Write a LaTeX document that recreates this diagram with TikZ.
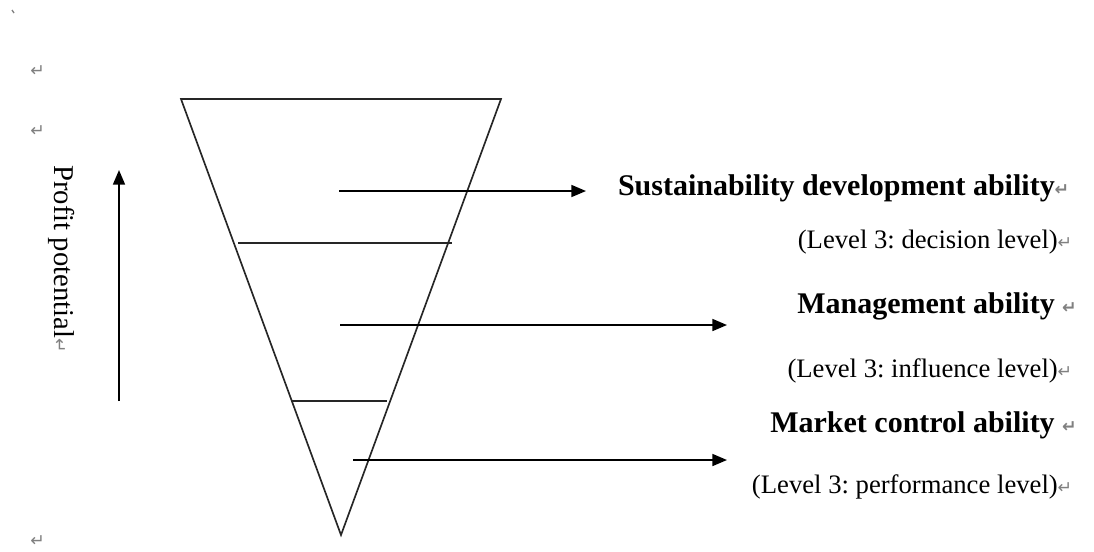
\documentclass[tikz,border=0pt]{standalone}
\usepackage{fontspec}
\setmainfont{Liberation Serif}
\newfontfamily\marksfont{DejaVu Sans}
\usetikzlibrary{arrows.meta}
\definecolor{markgray}{RGB}{128,128,128}
\frenchspacing
% paragraph mark
\newcommand{\pmark}{{\marksfont\fontsize{13pt}{13pt}\selectfont\color{markgray}↵}}
\tikzset{
  edge/.style={line width=1.25pt, black!85},
  pointer/.style={line width=1.25pt, black, -{Triangle[length=11pt,width=9pt]}},
  headtext/.style={font=\fontsize{22.5pt}{24pt}\selectfont\bfseries, anchor=base east, inner sep=0pt},
  leveltext/.style={font=\fontsize{20pt}{22pt}\selectfont, anchor=base east, inner sep=0pt},
  markonly/.style={anchor=base west, inner sep=0pt},
}
\begin{document}
\begin{tikzpicture}[x=0.75pt,y=-0.75pt]
\useasboundingbox (0,0) rectangle (1094,551);

% inverted triangle
\coordinate (tl) at (181,99);
\coordinate (tr) at (501,99);
\coordinate (ap) at (341,535);
\draw[edge, line join=miter] (tl) -- (tr) -- (ap) -- cycle;

% level dividers
\coordinate (d1a) at (238,243);
\coordinate (d1b) at (452,243);
\coordinate (d2a) at (292,401);
\coordinate (d2b) at (387,401);
\draw[edge] (d1a) -- (d1b);
\draw[edge] (d2a) -- (d2b);

% level arrows
\coordinate (s1) at (339,191);
\coordinate (e1) at (586,191);
\coordinate (s2) at (340,325);
\coordinate (e2) at (727,325);
\coordinate (s3) at (353,460);
\coordinate (e3) at (727,460);
\draw[pointer] (s1) -- (e1);
\draw[pointer] (s2) -- (e2);
\draw[pointer] (s3) -- (e3);

% profit potential axis
\coordinate (pb) at (119,401);
\coordinate (pt) at (119,170);
\draw[pointer] (pb) -- (pt);
\node[anchor=base west, inner sep=0pt, rotate=-90,
      font=\fontsize{21.5pt}{23pt}\selectfont, text=black]
  (profit) at (54,165) {Profit potential\rlap{\pmark}};

% level labels
\node[headtext] (h1) at (1055,195) {Sustainability development ability\rlap{\pmark}};
\node[leveltext] (l1) at (1058,248) {(Level 3: decision level)\rlap{\pmark}};
\node[headtext] (h2) at (1055,313) {Management ability\rlap{\ \pmark}};
\node[leveltext] (l2) at (1058,377) {(Level 3: influence level)\rlap{\pmark}};
\node[headtext] (h3) at (1055,432) {Market control ability\rlap{\ \pmark}};
\node[leveltext] (l3) at (1058,493) {(Level 3: performance level)\rlap{\pmark}};

% empty paragraph marks down the left margin
\node[markonly] (m1) at (30,76) {\pmark};
\node[markonly] (m2) at (30,136) {\pmark};
\node[markonly] (m3) at (30,546) {\pmark};
\coordinate (tk1) at (12,10);
\coordinate (tk2) at (14,13);
\draw[markgray, line width=1pt] (tk1) -- (tk2);
\end{tikzpicture}
\end{document}
